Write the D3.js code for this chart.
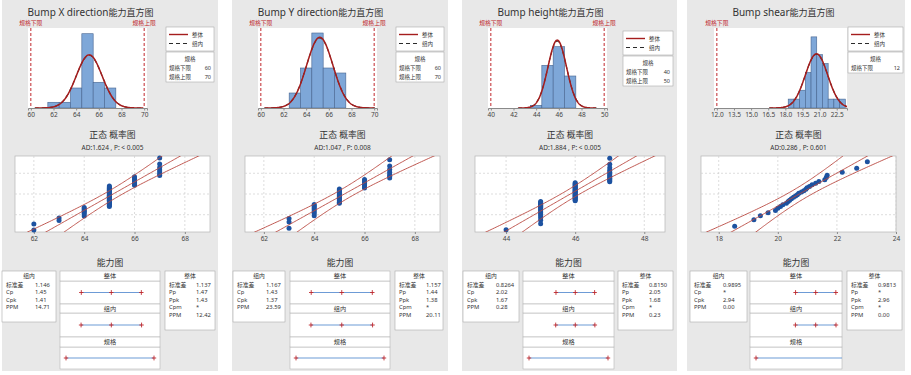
<!DOCTYPE html>
<html><head><meta charset="utf-8">
<script src="https://cdn.jsdelivr.net/npm/d3@7"></script>
<style>
body{margin:0;background:#fff}
svg{display:block}
text{font-family:"Noto Sans","Noto Sans CJK SC",sans-serif}
</style>
</head><body>
<svg id="c" width="911" height="375"></svg>
<script>
// ---------------- data ----------------
const titles = ["Bump X direction能力直方图", "Bump Y direction能力直方图", "Bump height能力直方图", "Bump shear能力直方图"];
const lsl = [60, 60, 40, 12];
const usl = [70, 70, 50, null];
const xdirValues = [62, 63, 64, 65, 66, 67];
const xdirCounts = [2, 2, 7, 26, 9, 7];
const ydirValues = [63, 64, 65, 66, 67];
const ydirCounts = [3, 8, 15, 8, 7];
const heightValues = [44, 45, 46, 47];
const heightCounts = [1, 16, 23, 12];
const shearValues = [18.54, 19.19, 19.41, 19.67, 19.92, 20.00, 20.09, 20.17, 20.29, 20.35, 20.40, 20.46, 20.53, 20.60, 20.66, 20.71, 20.80, 20.88, 20.95, 20.99, 21.07, 21.16, 21.28, 21.39, 21.59, 21.64, 21.67, 22.18, 22.67, 23.03];
const means = [65.15, 65.20, 45.86, 20.73];
const sdWithin = [1.146, 1.167, 0.8264, 0.9895];
const sdOverall = [1.137, 1.157, 0.8150, 0.9813];
const binWidths = [1, 1, 1, 0.5];
const histDomains = [[59.75, 70.25], [59.75, 70.25], [39.75, 50.25], [11.75, 23.4]];
const histYMax = [28, 16, 30, 9];
const histTicks = [[60, 62, 64, 66, 68, 70], [60, 62, 64, 66, 68, 70], [40, 42, 44, 46, 48, 50], [12, 13.5, 15, 16.5, 18, 19.5, 21, 22.5]];
const probDomains = [[61.25, 69], [61.25, 69], [43.1, 48.6], [17.4, 24]];
const probTicks = [[62, 64, 66, 68], [62, 64, 66, 68], [44, 46, 48], [18, 20, 22, 24]];
const probGridPct = [0.1, 0.5, 0.9];
const adTexts = ["AD:1.624 , P: < 0.005", "AD:1.047 , P: 0.008", "AD:1.884 , P: < 0.005", "AD:0.286 , P: 0.601"];
const withinLabels = ["标准差", "Cp", "Cpk", "PPM"];
const overallLabels = ["标准差", "Pp", "Ppk", "Cpm", "PPM"];
const withinStats = [["1.146", "1.45", "1.41", "14.71"], ["1.167", "1.43", "1.37", "23.59"], ["0.8264", "2.02", "1.67", "0.28"], ["0.9895", "*", "2.94", "0.00"]];
const overallStats = [["1.137", "1.47", "1.43", "*", "12.42"], ["1.157", "1.44", "1.38", "*", "20.11"], ["0.8150", "2.05", "1.68", "*", "0.23"], ["0.9813", "*", "2.96", "*", "0.00"]];
const capSections = ["整体", "组内", "规格"];

// ---------------- layout ----------------
const panelX = [2, 232, 462, 687], panelW = [216, 216, 215, 218];
const histLeft = [26, 26, 26, 27], histRight = [145, 145, 145, 160];
const legendX = [164, 164, 161, 161], legendW = [48, 48, 50, 55], legendDY = [0, 0, 4, 0];
const probL = [13, 13, 13, 14], probR = [208, 208, 203, 209];
const capLeft = [[0, 54], [1, 53], [1, 57], [3, 60]];
const capMid = [[58, 158], [58, 158], [61, 152], [63, 155]];
const capRight = [[163, 213], [163, 211], [156, 211], [160, 215]];
const HT = 28, HB = 108, PT = 156, PB = 232;

const RED = "#c0282d", CURVE = "#a51d1d", BLUE_DOT = "#1d52a0", BAND = "#b9473f";

function probit(p) {
  const a = [-3.969683028665376e+01, 2.209460984245205e+02, -2.759285104469687e+02, 1.383577518672690e+02, -3.066479806614716e+01, 2.506628277459239e+00];
  const b = [-5.447609879822406e+01, 1.615858368580409e+02, -1.556989798598866e+02, 6.680131188771972e+01, -1.328068155288572e+01];
  const c = [-7.784894002430293e-03, -3.223964580411365e-01, -2.400758277161838e+00, -2.549732539343734e+00, 4.374664141464968e+00, 2.938163982698783e+00];
  const d = [7.784695709041462e-03, 3.224671290700398e-01, 2.445134137142996e+00, 3.754408661907416e+00];
  const pl = 0.02425, ph = 1 - pl; let q, r;
  if (p < pl) { q = Math.sqrt(-2 * Math.log(p)); return (((((c[0]*q+c[1])*q+c[2])*q+c[3])*q+c[4])*q+c[5])/((((d[0]*q+d[1])*q+d[2])*q+d[3])*q+1); }
  if (p <= ph) { q = p - 0.5; r = q*q; return (((((a[0]*r+a[1])*r+a[2])*r+a[3])*r+a[4])*r+a[5])*q/(((((b[0]*r+b[1])*r+b[2])*r+b[3])*r+b[4])*r+1); }
  q = Math.sqrt(-2 * Math.log(1 - p)); return -(((((c[0]*q+c[1])*q+c[2])*q+c[3])*q+c[4])*q+c[5])/((((d[0]*q+d[1])*q+d[2])*q+d[3])*q+1);
}
const pdf = (x, m, s) => Math.exp(-0.5 * ((x - m) / s) ** 2) / (s * Math.sqrt(2 * Math.PI));
const expand = (vals, cnts) => d3.merge(vals.map((v, k) => d3.range(cnts[k]).map(() => v)));
const samples = [expand(xdirValues, xdirCounts), expand(ydirValues, ydirCounts), expand(heightValues, heightCounts), shearValues.slice()];

function mixedText(sel, str, latinSize, cjkSize) {
  str.split(/([\u3400-\u9fff]+)/).filter(s => s.length).forEach(s => {
    sel.append("tspan").attr("font-size", /[\u3400-\u9fff]/.test(s) ? cjkSize : latinSize).text(s);
  });
  return sel;
}

const svg = d3.select("#c");
const defs = svg.append("defs");

for (let i = 0; i < 4; i++) {
  const g = svg.append("g").attr("transform", `translate(${panelX[i]},0)`);
  g.append("rect").attr("width", panelW[i]).attr("height", 371).attr("fill", "#e8e8e8");
  const data = samples[i].slice().sort(d3.ascending);
  const n = data.length;
  const mu = means[i];

  // ===== Histogram =====
  const hx = d3.scaleLinear().domain(histDomains[i]).range([histLeft[i], histRight[i]]);
  const hy = d3.scaleLinear().domain([0, histYMax[i]]).range([HB, HT]);
  const cid = "hclip" + i;
  defs.append("clipPath").attr("id", cid).append("rect")
    .attr("x", panelX[i] + histLeft[i]).attr("y", HT).attr("width", histRight[i] - histLeft[i]).attr("height", HB - HT);
  g.append("rect").attr("x", histLeft[i]).attr("y", HT).attr("width", histRight[i] - histLeft[i]).attr("height", HB - HT).attr("fill", "#fff");

  const w = binWidths[i];
  const d0 = histDomains[i][0], d1 = histDomains[i][1];
  const thr = [];
  for (let k = Math.floor(d0 / w) - 1; (k + 0.5) * w < d1; k++) { const t = (k + 0.5) * w; if (t > d0) thr.push(t); }
  const bins = d3.bin().domain([d0, d1]).thresholds(thr)(data).filter(b => b.length > 0);
  g.append("g").selectAll("rect").data(bins).join("rect")
    .attr("x", b => hx(b.x0)).attr("width", b => hx(b.x1) - hx(b.x0))
    .attr("y", b => hy(b.length)).attr("height", b => HB - hy(b.length))
    .attr("fill", "#7ea7d8").attr("stroke", "#46648f").attr("stroke-width", 0.6);

  const mkCurve = (sd) => {
    const xs = d3.range(mu - 4.2 * sd, mu + 4.2 * sd, sd / 40);
    return d3.line().x(v => hx(v)).y(v => hy(n * w * pdf(v, mu, sd)))(xs);
  };
  const cg = svg.append("g").attr("clip-path", `url(#${cid})`).append("g").attr("transform", `translate(${panelX[i]},0)`);
  cg.append("path").attr("d", mkCurve(sdWithin[i])).attr("fill", "none").attr("stroke", "#2b2b2b").attr("stroke-width", 1.1).attr("stroke-dasharray", "4,3");
  cg.append("path").attr("d", mkCurve(sdOverall[i])).attr("fill", "none").attr("stroke", CURVE).attr("stroke-width", 1.5);

  // spec lines
  const specs = [[lsl[i], "规格下限"], [usl[i], "规格上限"]].filter(s => s[0] != null);
  specs.forEach(s => {
    g.append("line").attr("x1", hx(s[0])).attr("x2", hx(s[0])).attr("y1", HT).attr("y2", HB)
      .attr("stroke", RED).attr("stroke-width", 1).attr("stroke-dasharray", "3,2");
    g.append("text").attr("x", hx(s[0])).attr("y", 25).attr("text-anchor", "middle")
      .attr("font-size", 5.8).attr("fill", RED).text(s[1]);
  });

  const hax = g.append("g").attr("transform", `translate(0,${HB})`)
    .call(d3.axisBottom(hx).tickValues(histTicks[i]).tickSize(2.5).tickPadding(1.5)
      .tickFormat(i === 3 ? d3.format(".1f") : d3.format("d")));
  hax.select(".domain").attr("stroke", "#8a8a8a");
  hax.selectAll(".tick line").attr("stroke", "#8a8a8a");
  hax.selectAll("text").attr("font-size", 6.5).attr("fill", "#444").style("font-family", "'Noto Sans',sans-serif");

  mixedText(g.append("text").attr("x", (histLeft[i] + histRight[i]) / 2 + 3).attr("y", 16)
    .attr("text-anchor", "middle").attr("fill", "#333"), titles[i], 10, 9);

  // legend
  const lx = legendX[i], lw = legendW[i], ly = 27 + legendDY[i];
  g.append("rect").attr("x", lx).attr("y", ly).attr("width", lw).attr("height", 24).attr("fill", "#fff").attr("stroke", "#aaa").attr("stroke-width", 0.6);
  g.append("line").attr("x1", lx + 3).attr("x2", lx + 22).attr("y1", ly + 7.5).attr("y2", ly + 7.5).attr("stroke", CURVE).attr("stroke-width", 1.4);
  g.append("line").attr("x1", lx + 3).attr("x2", lx + 22).attr("y1", ly + 16.5).attr("y2", ly + 16.5).attr("stroke", "#2b2b2b").attr("stroke-width", 1.1).attr("stroke-dasharray", "4,3");
  g.append("text").attr("x", lx + 26).attr("y", ly + 9.5).attr("font-size", 5.5).attr("fill", "#333").text("整体");
  g.append("text").attr("x", lx + 26).attr("y", ly + 18.5).attr("font-size", 5.5).attr("fill", "#333").text("组内");
  const specRows = [["规格下限", lsl[i]], ["规格上限", usl[i]]].filter(r => r[1] != null);
  const boxH = 12 + specRows.length * 9;
  g.append("rect").attr("x", lx).attr("y", ly + 25).attr("width", lw).attr("height", boxH).attr("fill", "#fff").attr("stroke", "#aaa").attr("stroke-width", 0.6);
  g.append("text").attr("x", lx + lw / 2).attr("y", ly + 34).attr("text-anchor", "middle").attr("font-size", 5.5).attr("fill", "#333").text("规格");
  specRows.forEach((r, k) => {
    g.append("text").attr("x", lx + 3).attr("y", ly + 43 + k * 8.5).attr("font-size", 5.5).attr("fill", "#333").text(r[0]);
    g.append("text").attr("x", lx + lw - 3).attr("y", ly + 43 + k * 8.5).attr("text-anchor", "end").attr("font-size", 5.5).attr("fill", "#333").text(r[1]);
  });

  // ===== Normal probability plot =====
  const px = d3.scaleLinear().domain(probDomains[i]).range([probL[i], probR[i]]);
  const py = d3.scaleLinear().domain([-2.35, 2.35]).range([PB, PT]);
  g.append("text").attr("x", (probL[i] + probR[i]) / 2).attr("y", 137.5).attr("text-anchor", "middle")
    .attr("font-size", 8.8).attr("fill", "#333").text("正态 概率图");
  g.append("text").attr("x", (probL[i] + probR[i]) / 2).attr("y", 149.5).attr("text-anchor", "middle")
    .attr("font-size", 6.5).attr("fill", "#333").text(adTexts[i]);
  g.append("rect").attr("x", probL[i]).attr("y", PT).attr("width", probR[i] - probL[i]).attr("height", PB - PT)
    .attr("fill", "#fff").attr("stroke", "#b5b5b5").attr("stroke-width", 0.7);
  g.append("g").selectAll("line").data(probTicks[i]).join("line")
    .attr("x1", d => px(d)).attr("x2", d => px(d)).attr("y1", PT).attr("y2", PB)
    .attr("stroke", "#cfcfcf").attr("stroke-width", 0.7).attr("stroke-dasharray", "2,2");
  g.append("g").selectAll("line").data(probGridPct).join("line")
    .attr("x1", probL[i]).attr("x2", probR[i]).attr("y1", d => py(probit(d))).attr("y2", d => py(probit(d)))
    .attr("stroke", "#cfcfcf").attr("stroke-width", 0.7).attr("stroke-dasharray", "2,2");
  const pax = g.append("g").attr("transform", `translate(0,${PB})`)
    .call(d3.axisBottom(px).tickValues(probTicks[i]).tickSize(2).tickPadding(2).tickFormat(d3.format("d")));
  pax.select(".domain").remove();
  pax.selectAll(".tick line").attr("stroke", "#8a8a8a");
  pax.selectAll("text").attr("font-size", 6.5).attr("fill", "#444").style("font-family", "'Noto Sans',sans-serif");

  const pid = "pclip" + i;
  defs.append("clipPath").attr("id", pid).append("rect")
    .attr("x", panelX[i] + probL[i]).attr("y", PT).attr("width", probR[i] - probL[i]).attr("height", PB - PT);
  const pg = svg.append("g").attr("clip-path", `url(#${pid})`).append("g").attr("transform", `translate(${panelX[i]},0)`);
  const so = sdOverall[i];
  const zs = d3.range(-2.6, 2.61, 0.05);
  const band = sgn => d3.line().x(z => px(mu + so * z + sgn * 2.4 * so * Math.sqrt(1 / n + z * z / (2 * n)))).y(z => py(z))(zs);
  [-1, 0, 1].forEach(sgn => {
    pg.append("path").attr("d", band(sgn)).attr("fill", "none").attr("stroke", BAND).attr("stroke-width", 0.9);
  });
  g.append("g").selectAll("circle").data(data).join("circle")
    .attr("cx", d => px(d)).attr("cy", (d, k) => py(probit((k + 1 - 0.3) / (n + 0.4))))
    .attr("r", 2.5).attr("fill", BLUE_DOT);

  // ===== Capability plot =====
  g.append("text").attr("x", (capMid[i][0] + capMid[i][1]) / 2).attr("y", 265.5).attr("text-anchor", "middle")
    .attr("font-size", 8.8).attr("fill", "#333").text("能力图");
  const FS = 5.8;
  // left (within) box
  const [la, lb] = capLeft[i];
  g.append("rect").attr("x", la).attr("y", 271).attr("width", lb - la).attr("height", 51).attr("fill", "#fff").attr("stroke", "#aaa").attr("stroke-width", 0.6);
  g.append("text").attr("x", (la + lb) / 2).attr("y", 278).attr("text-anchor", "middle").attr("font-size", FS).attr("fill", "#333").text("组内");
  withinLabels.forEach((lab, k) => {
    g.append("text").attr("x", la + 4).attr("y", 286.5 + k * 7.6).attr("font-size", FS).attr("fill", "#333").text(lab);
    g.append("text").attr("x", la + 33).attr("y", 286.5 + k * 7.6).attr("font-size", FS).attr("fill", "#333").text(withinStats[i][k]);
  });
  // right (overall) box
  const [ra, rb] = capRight[i];
  g.append("rect").attr("x", ra).attr("y", 271).attr("width", rb - ra).attr("height", 59).attr("fill", "#fff").attr("stroke", "#aaa").attr("stroke-width", 0.6);
  g.append("text").attr("x", (ra + rb) / 2).attr("y", 278).attr("text-anchor", "middle").attr("font-size", FS).attr("fill", "#333").text("整体");
  overallLabels.forEach((lab, k) => {
    g.append("text").attr("x", ra + 4).attr("y", 286.5 + k * 7.6).attr("font-size", FS).attr("fill", "#333").text(lab);
    g.append("text").attr("x", ra + 31).attr("y", 286.5 + k * 7.6).attr("font-size", FS).attr("fill", "#333").text(overallStats[i][k]);
  });
  // middle column
  const [ma, mb] = capMid[i];
  const sigMax = Math.max(sdWithin[i], sdOverall[i]);
  const capLo = Math.min(lsl[i], mu - 3 * sigMax);
  const capHi = usl[i] != null ? Math.max(usl[i], mu + 3 * sigMax) : mu + 3 * sigMax;
  const cx = d3.scaleLinear().domain([capLo, capHi]).range([ma + 6, mb - 6]);
  const sections = [[271, 281, 304], [304, 313, 337], [337, 347, 369]];
  const intervals = [
    [mu - 3 * sdOverall[i], mu, mu + 3 * sdOverall[i]],
    [mu - 3 * sdWithin[i], mu, mu + 3 * sdWithin[i]],
    usl[i] != null ? [lsl[i], usl[i]] : [lsl[i]]
  ];
  sections.forEach((s, k) => {
    g.append("rect").attr("x", ma).attr("y", s[1]).attr("width", mb - ma).attr("height", s[2] - s[1]).attr("fill", "#fff").attr("stroke", "#b5b5b5").attr("stroke-width", 0.6);
    g.append("rect").attr("x", ma).attr("y", s[0]).attr("width", mb - ma).attr("height", s[1] - s[0]).attr("fill", "#fff").attr("stroke", "#b5b5b5").attr("stroke-width", 0.6);
    g.append("text").attr("x", (ma + mb) / 2).attr("y", s[0] + 7.2).attr("text-anchor", "middle").attr("font-size", 6.2).attr("fill", "#333").text(capSections[k]);
    const yy = (s[1] + s[2]) / 2;
    const iv = intervals[k];
    const x1 = cx(iv[0]);
    const x2 = iv.length > 1 ? cx(iv[iv.length - 1]) : mb;
    g.append("line").attr("x1", x1).attr("x2", x2).attr("y1", yy).attr("y2", yy).attr("stroke", "#6d9bd6").attr("stroke-width", 1.2);
    g.append("g").selectAll("path").data(iv).join("path")
      .attr("transform", d => `translate(${cx(d)},${yy})`)
      .attr("d", "M-2.2,0H2.2M0,-2.4V2.4").attr("stroke", RED).attr("stroke-width", 0.9).attr("fill", "none");
  });
}
</script>
</body></html>
